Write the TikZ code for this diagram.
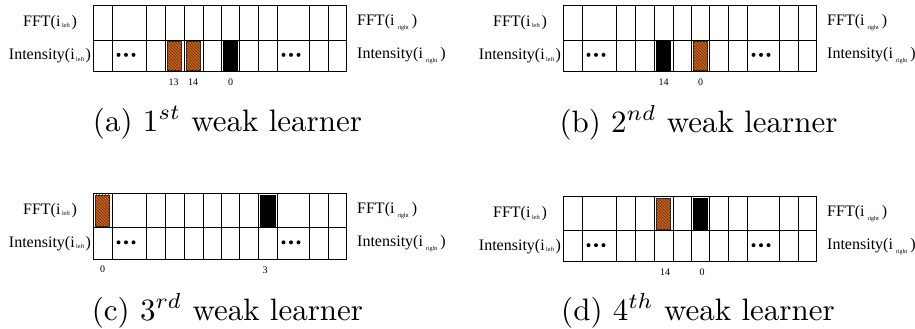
\documentclass[tikz,border=0pt]{standalone}
\usepackage{fontspec}
\newfontfamily\tms{Liberation Serif}
\usetikzlibrary{patterns}
\definecolor{barorange}{RGB}{196,98,28}
\definecolor{hatchbrown}{RGB}{110,45,10}
\tikzset{
  gridline/.style={draw=black, line width=0.8pt},
  midline/.style={draw=black, line width=1.6pt},
  rowlbl/.style={font=\tms\fontsize{16}{18}\selectfont, inner sep=0pt},
  numlbl/.style={font=\tms\fontsize{10}{12}\selectfont, inner sep=0pt},
  caplbl/.style={font=\fontsize{10}{12}\selectfont, inner sep=0pt, anchor=base, scale=3.1, transform shape},
  orangebar/.style={fill=barorange, draw=black!85, line width=0.6pt,
    postaction={pattern=north west lines, pattern color=hatchbrown}},
  blackbar/.style={fill=black, draw=black, line width=0.6pt},
  dotmark/.style={fill=black, draw=none},
}
\newcommand\lsub{\raisebox{-1.5pt}{\fontsize{6}{6}\selectfont\hspace{1.5pt}left\hspace{1.5pt}}}
\newcommand\rsub{\raisebox{-4pt}{\fontsize{6}{6}\selectfont\hspace{3pt}right\hspace{3pt}}}
% #1 prefix, #2 x0, #3 ytop, #4 ymid, #5 ybot
\newcommand\wlpanel[5]{%
  \draw[gridline] (#2,#3) rectangle ({#2+253.3},#5);
  \draw[gridline] (#2,#4) -- ({#2+253.3},#4);
  \foreach \cx in {19,53.3,72.3,91,110,146.7,165.7,184.3,216,235}
    \draw[gridline] ({#2+\cx},#3) -- ({#2+\cx},#5);
  \draw[midline] ({#2+128.3},#3) -- ({#2+128.3},#5);
  \foreach \dx in {-7.5,0,7.5} {
    \fill[dotmark] ({#2+33+\dx},{(#4+#5)/2-1}) circle (2pt);
    \fill[dotmark] ({#2+198+\dx},{(#4+#5)/2-1}) circle (2pt);
  }
  \node[rowlbl] (#1fftl) at ({#2-43},{(#3+#4)/2}) {FFT(i\lsub)};
  \node[rowlbl] (#1intl) at ({#2-43},{(#4+#5)/2}) {Intensity(i\lsub)};
  \node[rowlbl, anchor=west] (#1fftr) at ({#2+264},{(#3+#4)/2}) {FFT(i\rsub)};
  \node[rowlbl, anchor=west] (#1intr) at ({#2+264},{(#4+#5)/2}) {Intensity(i\rsub)};
}
% #1 style, #2 x0, #3 col left, #4 col right, #5 ytop, #6 ybot
\newcommand\cellbar[6]{%
  \draw[#1] ({#2+#3+2},{#5+1.5}) rectangle ({#2+#4-2.5},{#6-1});
}
\begin{document}
\begin{tikzpicture}[x=1pt,y=-1pt]
\useasboundingbox (0,0) rectangle (915,329);

% (a)
\wlpanel{a}{93}{5}{40}{71.7}
\cellbar{orangebar}{93}{72.3}{91}{40}{71.7}
\cellbar{orangebar}{93}{91}{110}{40}{71.7}
\cellbar{blackbar}{93}{128.3}{146.7}{40}{71.7}
\node[numlbl] (a13) at (173.5,82) {13};
\node[numlbl] (a14) at (193,82) {14};
\node[numlbl] (a0) at (230.5,82) {0};
\node[caplbl] (capa) at (227.5,131) {(a) $1^{st}$ weak learner};

% (b)
\wlpanel{b}{563}{5}{40}{71.7}
\cellbar{blackbar}{563}{91}{110}{40}{71.7}
\cellbar{orangebar}{563}{128.3}{146.7}{40}{71.7}
\node[numlbl] (b14) at (663.5,82) {14};
\node[numlbl] (b0) at (700.5,82) {0};
\node[caplbl] (capb) at (698.5,132) {(b) $2^{nd}$ weak learner};

% (c)
\wlpanel{c}{93}{193.3}{227.7}{259}
\cellbar{orangebar}{93}{0}{19}{193.3}{227.7}
\cellbar{blackbar}{93}{165.7}{184.3}{193.3}{227.7}
\node[numlbl] (c0) at (102.5,269) {0};
\node[numlbl] (c3) at (265,270) {3};
\node[caplbl] (capc) at (227.5,320) {(c) $3^{rd}$ weak learner};

% (d)
\wlpanel{d}{563}{196.7}{230.7}{261.7}
\cellbar{orangebar}{563}{91}{110}{196.7}{230.7}
\cellbar{blackbar}{563}{128.3}{146.7}{196.7}{230.7}
\node[numlbl] (d14) at (665,272) {14};
\node[numlbl] (d0) at (702,272) {0};
\node[caplbl] (capd) at (698,320) {(d) $4^{th}$ weak learner};
\end{tikzpicture}
\end{document}
